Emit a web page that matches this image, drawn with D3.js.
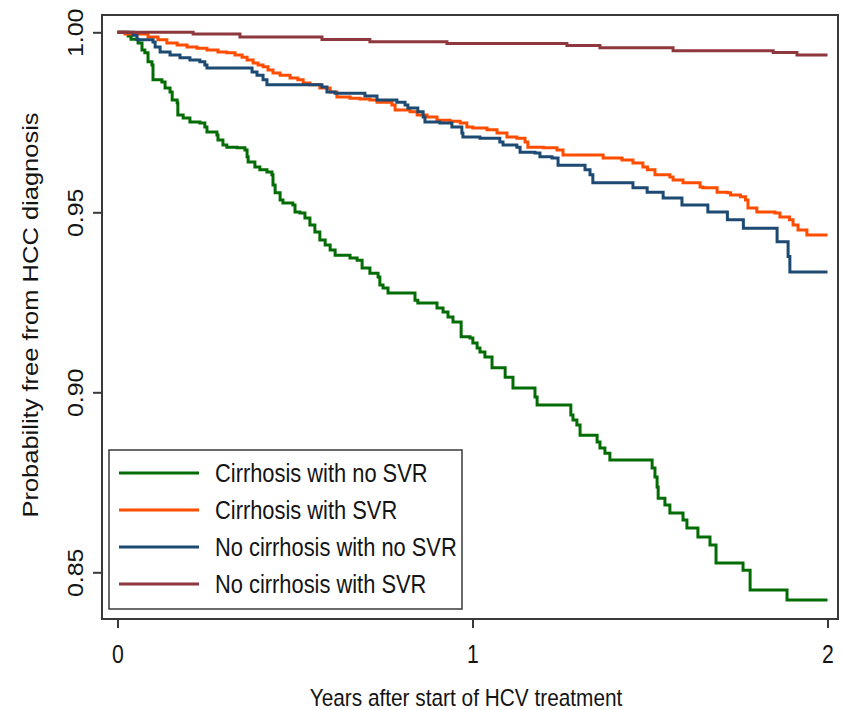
<!DOCTYPE html>
<html>
<head>
<meta charset="utf-8">
<script src="https://cdn.jsdelivr.net/npm/d3@7"></script>
<style>
  html, body { margin: 0; padding: 0; background: #fff; }
  svg { display: block; font-family: "Liberation Sans", Arial, sans-serif; }
</style>
</head>
<body>
<svg id="chart" width="844" height="710"></svg>
<script>
// Kaplan-Meier estimates: [years since start of treatment, probability free from HCC]
const seriesNames = [
  "Cirrhosis with no SVR",
  "Cirrhosis with SVR",
  "No cirrhosis with no SVR",
  "No cirrhosis with SVR"
];
const seriesColors = ["#046c04", "#ff4d00", "#1c4a72", "#8e373d"];

const cirrhosisNoSvr = [
  [0,1],[0.030,0.9990],[0.038,0.9981],[0.058,0.9970],[0.069,0.9951],[0.077,0.9943],[0.086,0.9918],
  [0.097,0.9909],[0.100,0.9868],[0.125,0.9862],[0.134,0.9845],[0.148,0.9834],[0.154,0.9812],
  [0.168,0.9804],[0.170,0.9770],[0.185,0.9762],[0.204,0.9751],[0.232,0.9748],[0.246,0.9737],
  [0.252,0.9723],[0.280,0.9715],[0.283,0.9701],[0.297,0.9687],[0.308,0.9681],[0.337,0.9679],
  [0.359,0.9673],[0.365,0.9654],[0.368,0.9640],[0.387,0.9626],[0.401,0.9618],[0.421,0.9612],
  [0.435,0.9604],[0.438,0.9576],[0.444,0.9554],[0.458,0.9534],[0.466,0.9526],[0.494,0.9520],
  [0.500,0.9501],[0.514,0.9498],[0.528,0.9484],[0.542,0.9465],[0.556,0.9445],[0.570,0.9423],
  [0.585,0.9409],[0.599,0.9395],[0.613,0.9381],[0.655,0.9373],[0.675,0.9367],[0.689,0.9345],
  [0.711,0.9331],[0.734,0.9320],[0.739,0.9298],[0.748,0.9290],[0.762,0.9276],[0.838,0.9256],
  [0.846,0.9248],[0.900,0.9234],[0.917,0.9223],[0.931,0.9209],[0.945,0.9195],[0.968,0.9154],
  [0.993,0.9151],[1.001,0.9137],[1.013,0.9123],[1.021,0.9112],[1.035,0.9098],[1.055,0.9068],
  [1.092,0.9042],[1.114,0.9012],[1.176,0.8987],[1.182,0.8965],[1.277,0.8937],[1.283,0.8923],
  [1.294,0.8909],[1.303,0.8881],[1.351,0.8862],[1.359,0.8845],[1.373,0.8831],[1.387,0.8812],
  [1.506,0.8790],[1.514,0.8765],[1.520,0.8737],[1.523,0.8706],[1.542,0.8687],[1.556,0.8665],
  [1.593,0.8645],[1.604,0.8623],[1.635,0.8598],[1.669,0.8576],[1.686,0.8526],[1.762,0.8506],
  [1.782,0.8451],[1.886,0.8423],[2.000,0.8423]
];

const cirrhosisSvr = [
  [0,1],[0.021,0.9995],[0.086,0.9987],[0.114,0.9979],[0.139,0.9970],[0.168,0.9965],[0.196,0.9959],
  [0.224,0.9956],[0.252,0.9951],[0.283,0.9945],[0.308,0.9943],[0.331,0.9937],[0.351,0.9931],
  [0.365,0.9923],[0.382,0.9915],[0.396,0.9909],[0.410,0.9904],[0.424,0.9895],[0.438,0.9887],
  [0.458,0.9881],[0.486,0.9873],[0.508,0.9868],[0.523,0.9859],[0.542,0.9854],[0.570,0.9845],
  [0.599,0.9834],[0.618,0.9820],[0.655,0.9817],[0.683,0.9815],[0.711,0.9812],[0.731,0.9806],
  [0.773,0.9798],[0.782,0.9784],[0.824,0.9779],[0.844,0.9770],[0.872,0.9765],[0.900,0.9756],
  [0.937,0.9753],[0.965,0.9748],[0.984,0.9737],[1.001,0.9734],[1.041,0.9729],[1.069,0.9720],
  [1.097,0.9709],[1.125,0.9706],[1.148,0.9695],[1.156,0.9681],[1.199,0.9679],[1.238,0.9673],
  [1.255,0.9659],[1.368,0.9651],[1.421,0.9645],[1.452,0.9637],[1.480,0.9626],[1.493,0.9618],
  [1.514,0.9604],[1.556,0.9598],[1.565,0.9590],[1.593,0.9582],[1.641,0.9570],[1.649,0.9568],
  [1.689,0.9556],[1.718,0.9554],[1.727,0.9548],[1.755,0.9543],[1.769,0.9534],[1.776,0.9512],
  [1.801,0.9501],[1.852,0.9498],[1.866,0.9487],[1.893,0.9479],[1.903,0.9465],[1.917,0.9451],
  [1.942,0.9437],[2.000,0.9437]
];

const noCirrhosisNoSvr = [
  [0,1],[0.044,0.9992],[0.055,0.9979],[0.100,0.9973],[0.106,0.9959],[0.120,0.9945],[0.148,0.9937],
  [0.176,0.9929],[0.204,0.9923],[0.232,0.9918],[0.246,0.9909],[0.252,0.9901],[0.379,0.9890],
  [0.393,0.9881],[0.410,0.9868],[0.421,0.9854],[0.576,0.9848],[0.590,0.9834],[0.613,0.9831],
  [0.697,0.9823],[0.731,0.9812],[0.787,0.9806],[0.810,0.9798],[0.818,0.9790],[0.846,0.9779],
  [0.861,0.9765],[0.866,0.9751],[0.908,0.9748],[0.942,0.9737],[0.970,0.9720],[0.973,0.9709],
  [1.021,0.9706],[1.077,0.9695],[1.086,0.9687],[1.125,0.9681],[1.134,0.9667],[1.176,0.9665],
  [1.190,0.9654],[1.224,0.9651],[1.241,0.9631],[1.317,0.9618],[1.331,0.9604],[1.339,0.9582],
  [1.452,0.9568],[1.492,0.9556],[1.537,0.9540],[1.590,0.9520],[1.663,0.9501],[1.718,0.9479],
  [1.763,0.9456],[1.858,0.9418],[1.889,0.9377],[1.894,0.9334],[2.000,0.9334]
];

const noCirrhosisSvr = [
  [0,1],[0.213,0.9995],[0.345,0.9987],[0.576,0.9980],[0.711,0.9974],[0.928,0.9969],[1.266,0.9963],
  [1.359,0.9957],[1.565,0.9949],[1.847,0.9944],[1.914,0.9937],[2.000,0.9937]
];

const xTicks = [0, 1, 2];
const xTickLabels = ["0", "1", "2"];
const yTicks = [1.00, 0.95, 0.90, 0.85];
const yTickLabels = ["1.00", "0.95", "0.90", "0.85"];
const xTitle = "Years after start of HCV treatment";
const yTitle = "Probability free from HCC diagnosis";

const allSeries = [cirrhosisNoSvr, cirrhosisSvr, noCirrhosisNoSvr, noCirrhosisSvr];

// ---- layout ----
const frame = { left: 102, top: 15, right: 838, bottom: 619 };
const squeeze = 0.85;          // horizontally condensed lettering
const fontSize = 25;
const inkColor = "#141414";
const frameColor = "#3a3a3a";
const fontStack = '"Liberation Sans", Arial, sans-serif';

const svg = d3.select("#chart");

const x = d3.scaleLinear().domain([0, 2]).range([117.5, 827.5]);
const y = d3.scaleLinear().domain([0.85, 1.0]).range([572.3, 32.3]);

// plot region border
svg.append("rect")
  .attr("x", frame.left).attr("y", frame.top)
  .attr("width", frame.right - frame.left)
  .attr("height", frame.bottom - frame.top)
  .attr("fill", "none")
  .attr("stroke", frameColor)
  .attr("stroke-width", 2);

// survival curves (step functions)
const line = d3.line()
  .x(d => x(d[0]))
  .y(d => y(d[1]))
  .curve(d3.curveStepAfter);

svg.append("g")
  .selectAll("path")
  .data(allSeries)
  .join("path")
  .attr("d", line)
  .attr("fill", "none")
  .attr("stroke", (d, i) => seriesColors[i])
  .attr("stroke-width", 3)
  .attr("stroke-linejoin", "miter")
  .attr("stroke-linecap", "butt");

// bottom axis
const xAxis = d3.axisBottom(x)
  .tickValues(xTicks)
  .tickFormat((d, i) => xTickLabels[i])
  .tickSize(9)
  .tickSizeOuter(0);

const gx = svg.append("g")
  .attr("transform", `translate(0,${frame.bottom})`)
  .call(xAxis);
gx.select(".domain").remove();
gx.selectAll(".tick line").attr("stroke", frameColor).attr("stroke-width", 2);
gx.selectAll(".tick text")
  .attr("y", null).attr("dy", null)
  .attr("transform", `translate(0,44) scale(${squeeze},1)`)
  .attr("fill", inkColor)
  .style("font-size", fontSize + "px")
  .style("font-family", fontStack);

// left axis
const yAxis = d3.axisLeft(y)
  .tickValues(yTicks)
  .tickFormat((d, i) => yTickLabels[i])
  .tickSize(9)
  .tickSizeOuter(0);

const gy = svg.append("g")
  .attr("transform", `translate(${frame.left},0)`)
  .call(yAxis);
gy.select(".domain").remove();
gy.selectAll(".tick line").attr("stroke", frameColor).attr("stroke-width", 2);
gy.selectAll(".tick text")
  .attr("x", null).attr("dy", null)
  .attr("text-anchor", "middle")
  .attr("transform", `translate(-19,0) scale(${squeeze},1) rotate(-90)`)
  .attr("fill", inkColor)
  .style("font-size", fontSize + "px")
  .style("font-family", fontStack);

// axis titles
svg.append("text")
  .attr("transform", `translate(466,706) scale(${squeeze},1)`)
  .attr("text-anchor", "middle")
  .attr("fill", inkColor)
  .style("font-size", "24.5px")
  .text(xTitle);

svg.append("text")
  .attr("transform", `translate(37.5,315) scale(${squeeze},1) rotate(-90)`)
  .attr("text-anchor", "middle")
  .attr("fill", inkColor)
  .style("font-size", "25.5px")
  .text(yTitle);

// legend
const legend = svg.append("g");
legend.append("rect")
  .attr("x", 109).attr("y", 450)
  .attr("width", 353).attr("height", 159)
  .attr("fill", "#fff")
  .attr("stroke", frameColor)
  .attr("stroke-width", 1.5);

const rowY = d3.scalePoint().domain(seriesNames).range([473, 584]);

const rows = legend.selectAll("g.row")
  .data(seriesNames)
  .join("g")
  .attr("class", "row")
  .attr("transform", d => `translate(0,${rowY(d)})`);

rows.append("line")
  .attr("x1", 119).attr("x2", 199)
  .attr("y1", 0).attr("y2", 0)
  .attr("stroke", (d, i) => seriesColors[i])
  .attr("stroke-width", 3);

rows.append("text")
  .attr("transform", `translate(215,9) scale(0.875,1)`)
  .attr("fill", inkColor)
  .style("font-size", fontSize + "px")
  .text(d => d);
</script>
</body>
</html>
